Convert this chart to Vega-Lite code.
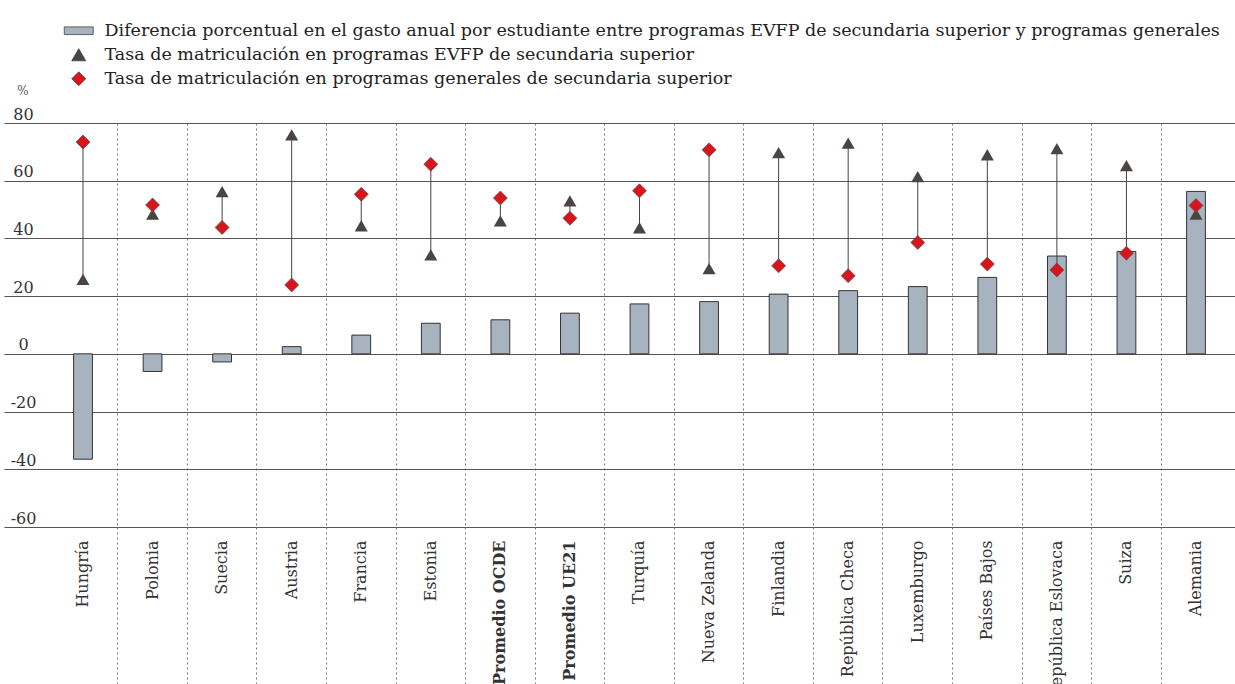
{
  "$schema": "https://vega.github.io/schema/vega-lite/v6.json",
  "width": 1231,
  "height": 404,
  "autosize": {"type": "none"},
  "padding": {"left": 4, "top": 123, "right": 0, "bottom": 157},
  "background": "white",
  "config": {
    "view": {"stroke": null},
    "font": "DejaVu Serif",
    "axisY": {
      "titleAngle": 0,
      "titleX": 18.5,
      "titleY": -29,
      "titleAlign": "center",
      "titleBaseline": "alphabetic",
      "titleFont": "DejaVu Serif",
      "titleFontSize": 12,
      "titleFontWeight": "normal",
      "titleColor": "#555",
      "grid": true,
      "gridColor": "#555",
      "gridWidth": 1,
      "domain": false,
      "ticks": false,
      "tickSize": 0,
      "labelAlign": "center",
      "labelBaseline": "alphabetic",
      "labelPadding": -19,
      "labelOffset": -4,
      "labelFont": "DejaVu Serif",
      "labelFontSize": 16,
      "labelColor": "#333",
      "labelExpr": "'' + datum.value"
    },
    "legend": {
      "title": null,
      "orient": "none",
      "legendX": 66,
      "legendY": -101,
      "labelFont": "DejaVu Serif",
      "labelFontSize": 17.5,
      "labelColor": "#222",
      "labelLimit": 1200,
      "symbolSize": 196,
      "labelOffset": 17,
      "rowPadding": 5,
      "symbolOpacity": 1,
      "symbolStrokeColor": "#444",
      "symbolStrokeWidth": 0.8
    }
  },
  "data": {
    "values": [
      {"country": "Hungría", "gasto": -36.5, "evfp": 25.8, "general": 73.4},
      {"country": "Polonia", "gasto": -6.1, "evfp": 48.4, "general": 51.6},
      {"country": "Suecia", "gasto": -2.8, "evfp": 56.2, "general": 43.8},
      {"country": "Austria", "gasto": 2.5, "evfp": 75.9, "general": 23.9},
      {"country": "Francia", "gasto": 6.5, "evfp": 44.4, "general": 55.3},
      {"country": "Estonia", "gasto": 10.6, "evfp": 34.3, "general": 65.7},
      {"country": "Promedio OCDE", "gasto": 11.8, "evfp": 46.1, "general": 54.0},
      {"country": "Promedio UE21", "gasto": 14.1, "evfp": 53.0, "general": 47.0},
      {"country": "Turquía", "gasto": 17.3, "evfp": 43.7, "general": 56.5},
      {"country": "Nueva Zelanda", "gasto": 18.1, "evfp": 29.5, "general": 70.7},
      {"country": "Finlandia", "gasto": 20.7, "evfp": 69.7, "general": 30.5},
      {"country": "República Checa", "gasto": 21.9, "evfp": 73.0, "general": 27.1},
      {"country": "Luxemburgo", "gasto": 23.3, "evfp": 61.4, "general": 38.6},
      {"country": "Países Bajos", "gasto": 26.5, "evfp": 69.0, "general": 31.1},
      {"country": "República Eslovaca", "gasto": 33.9, "evfp": 71.1, "general": 29.1},
      {"country": "Suiza", "gasto": 35.5, "evfp": 65.2, "general": 34.9},
      {"country": "Alemania", "gasto": 56.3, "evfp": 48.4, "general": 51.4}
    ]
  },
  "encoding": {
    "x": {
      "field": "country",
      "type": "nominal",
      "sort": null,
      "scale": {"paddingInner": 0, "paddingOuter": 0.348, "align": 0.913},
      "axis": {
        "title": null,
        "labelAngle": -90,
        "labelFont": "DejaVu Serif",
        "labelFontSize": 16,
        "labelColor": "#333",
        "labelFontWeight": {"condition": {"test": "indexof(datum.value, 'Promedio') === 0", "value": "bold"}, "value": "normal"},
        "labelLimit": 300,
        "domain": false,
        "grid": true,
        "bandPosition": 0,
        "gridColor": "#777",
        "gridDash": [2, 3],
        "gridWidth": 1,
        "gridOpacity": {"condition": {"test": "datum.value === 'Hungría'", "value": 0}, "value": 1},
        "ticks": true,
        "tickSize": 158,
        "tickColor": "#777",
        "tickDash": [2, 3],
        "tickWidth": 1,
        "tickOpacity": {"condition": {"test": "datum.value === 'Hungría'", "value": 0}, "value": 1},
        "labelPadding": -145
      }
    }
  },
  "layer": [
    {
      "mark": {"type": "bar", "width": {"band": 0.27}, "stroke": "#333", "strokeWidth": 1},
      "encoding": {
        "y": {
          "field": "gasto",
          "type": "quantitative",
          "scale": {"domain": [-60, 80], "nice": false, "zero": false},
          "axis": {"title": "%", "values": [-60, -40, -20, 0, 20, 40, 60, 80]}
        },
        "color": {
          "datum": "Diferencia porcentual en el gasto anual por estudiante entre programas EVFP de secundaria superior y programas generales",
          "type": "nominal",
          "scale": {
            "domain": [
              "Diferencia porcentual en el gasto anual por estudiante entre programas EVFP de secundaria superior y programas generales",
              "Tasa de matriculación en programas EVFP de secundaria superior",
              "Tasa de matriculación en programas generales de secundaria superior"
            ],
            "range": ["#a7b3bf", "#4a4543", "#d8141c"]
          },
          "legend": {"encode": {"symbols": {"update": {"stroke": {"value": "#444"}, "strokeWidth": {"value": 0.8}}}}}
        }
      }
    },
    {
      "mark": {"type": "rule", "color": "#444", "strokeWidth": 1},
      "encoding": {
        "y": {"field": "evfp", "type": "quantitative", "axis": {"title": "%", "values": [-60, -40, -20, 0, 20, 40, 60, 80]}},
        "y2": {"field": "general"}
      }
    },
    {
      "mark": {"type": "point", "filled": true, "opacity": 1, "size": 170},
      "encoding": {
        "y": {"field": "evfp", "type": "quantitative", "axis": {"title": "%", "values": [-60, -40, -20, 0, 20, 40, 60, 80]}},
        "color": {
          "datum": "Tasa de matriculación en programas EVFP de secundaria superior",
          "type": "nominal",
          "scale": {
            "domain": [
              "Diferencia porcentual en el gasto anual por estudiante entre programas EVFP de secundaria superior y programas generales",
              "Tasa de matriculación en programas EVFP de secundaria superior",
              "Tasa de matriculación en programas generales de secundaria superior"
            ],
            "range": ["#a7b3bf", "#4a4543", "#d8141c"]
          },
          "legend": {"encode": {"symbols": {"update": {"stroke": {"value": "#444"}, "strokeWidth": {"value": 0.8}}}}}
        },
        "shape": {
          "datum": "Tasa de matriculación en programas EVFP de secundaria superior",
          "type": "nominal",
          "scale": {
            "domain": [
              "Diferencia porcentual en el gasto anual por estudiante entre programas EVFP de secundaria superior y programas generales",
              "Tasa de matriculación en programas EVFP de secundaria superior",
              "Tasa de matriculación en programas generales de secundaria superior"
            ],
            "range": ["M-2.07,-0.55H2.07V0.55H-2.07Z", "triangle-up", "diamond"]
          },
          "legend": {"encode": {"symbols": {"update": {"stroke": {"value": "#444"}, "strokeWidth": {"value": 0.8}}}}}
        }
      }
    },
    {
      "mark": {"type": "point", "filled": true, "opacity": 1, "size": 196, "stroke": "#555", "strokeWidth": 0.7},
      "encoding": {
        "y": {"field": "general", "type": "quantitative", "axis": {"title": "%", "values": [-60, -40, -20, 0, 20, 40, 60, 80]}},
        "color": {
          "datum": "Tasa de matriculación en programas generales de secundaria superior",
          "type": "nominal",
          "scale": {
            "domain": [
              "Diferencia porcentual en el gasto anual por estudiante entre programas EVFP de secundaria superior y programas generales",
              "Tasa de matriculación en programas EVFP de secundaria superior",
              "Tasa de matriculación en programas generales de secundaria superior"
            ],
            "range": ["#a7b3bf", "#4a4543", "#d8141c"]
          },
          "legend": {"encode": {"symbols": {"update": {"stroke": {"value": "#444"}, "strokeWidth": {"value": 0.8}}}}}
        },
        "shape": {
          "datum": "Tasa de matriculación en programas generales de secundaria superior",
          "type": "nominal",
          "scale": {
            "domain": [
              "Diferencia porcentual en el gasto anual por estudiante entre programas EVFP de secundaria superior y programas generales",
              "Tasa de matriculación en programas EVFP de secundaria superior",
              "Tasa de matriculación en programas generales de secundaria superior"
            ],
            "range": ["M-2.07,-0.55H2.07V0.55H-2.07Z", "triangle-up", "diamond"]
          },
          "legend": {"encode": {"symbols": {"update": {"stroke": {"value": "#444"}, "strokeWidth": {"value": 0.8}}}}}
        }
      }
    }
  ]
}
